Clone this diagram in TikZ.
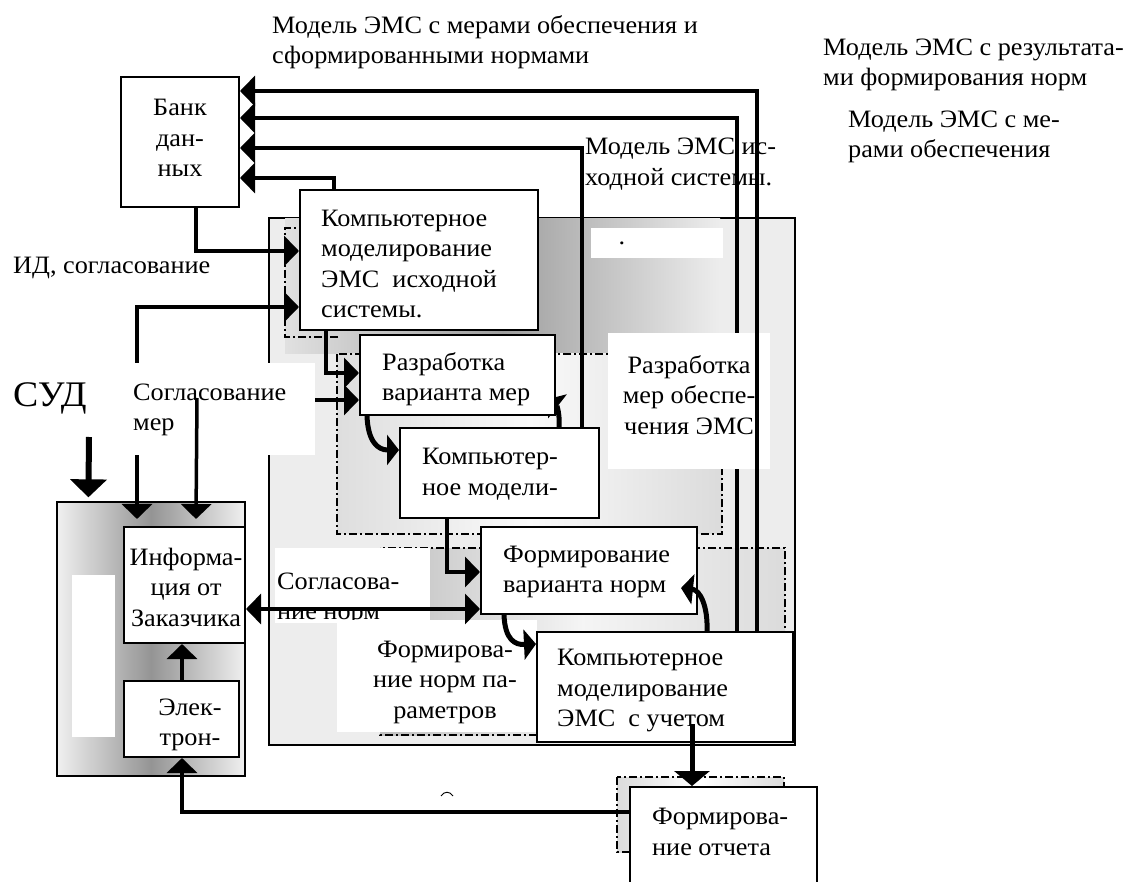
\documentclass[tikz,border=0pt]{standalone}
\usepackage{fontspec}
\setmainfont{Liberation Serif}[FakeStretch=1.05]
\usetikzlibrary{arrows.meta,calc}
\newcommand\fs{\fontsize{25}{30.5}\selectfont}
\pgfdeclarelayer{lzero}
\pgfdeclarelayer{lone}
\pgfdeclarelayer{ltwo}
\pgfsetlayers{lzero,lone,ltwo,main}
\begin{document}
\begin{tikzpicture}[x=1pt,y=-1pt,
  box/.style={draw, line width=2pt, fill=white, inner sep=0},
  txt/.style={inner sep=0, font=\fs, align=left},
  wbox/.style={fill=white, inner sep=0},
  dd/.style={line width=1.3pt, dash pattern=on 8pt off 3pt on 2pt off 3pt},
  arr/.style={line width=3.5pt, -{Triangle[length=15pt,width=30pt]}},
  darr/.style={line width=3.5pt, {Triangle[length=15pt,width=30pt]}-{Triangle[length=15pt,width=30pt]}},
  carr/.style={line width=5pt, -{Triangle[length=12pt,width=30pt]}},
  barr/.style={line width=6pt, -{Triangle[length=18pt,width=36pt]}},
]
\useasboundingbox (0,0) rectangle (1136,882);

% ---------- boxes (main layer) ----------
\node[box, minimum width=118pt, minimum height=130pt] (bank) at (180,142) {};
\node[box, minimum width=238pt, minimum height=140pt] (km1) at (419,260) {};
\node[box, minimum width=195pt, minimum height=80pt] (rv) at (457.5,375) {};
\node[box, minimum width=199pt, minimum height=90pt] (km2) at (499.5,473) {};
\node[box, minimum width=216pt, minimum height=87pt] (fv) at (589,570.5) {};
\node[box, minimum width=256pt, minimum height=110pt] (km3) at (665,687) {};
\node[box, minimum width=187pt, minimum height=99pt] (fo) at (723.5,836.5) {};
\node[box, minimum width=121pt, minimum height=116pt] (info) at (184.5,585) {};
\node[box, minimum width=115pt, minimum height=76pt] (el) at (181.5,719) {};

% ---------- background layer ----------
\begin{pgfonlayer}{lzero}
\node[draw, line width=1.3pt, fill=black!7, minimum width=526pt, minimum height=527pt, inner sep=0] (bb) at (532,481.5) {};
\path[left color=black!12, right color=black!7, middle color=black!38] (285,219) rectangle (720,354);
\draw[dd] (338,337) -- (285,337) -- (285,228) -- (300,228);
\path[left color=black!13, right color=black!14, middle color=black!2] (337,354) rectangle (722,534);
\draw[dd] (337,354) rectangle (722,534);
\path[left color=black!25, right color=black!14, middle color=black!4] (380,548) rectangle (785,735);
\draw[dd] (380,548) rectangle (785,735);
\path[left color=black!14, right color=black!14, middle color=white] (617,777) rectangle (784,852);
\draw[dd] (617,777) rectangle (784,852);
\node[draw, line width=1.3pt, left color=black!6, right color=black!6, middle color=black!42, minimum width=188pt, minimum height=274pt, inner sep=0] (lc) at (151,639) {};
\fill[white] (72,575) rectangle (115,737);
\node[txt, anchor=west] (midT) at (585,164) {Модель ЭМС ис-\\ходной системы.};
\end{pgfonlayer}

% ---------- lines hidden by white text boxes ----------
\begin{pgfonlayer}{lone}
\draw[arr] ([xshift=201pt]km3.north west) |- ([yshift=-42pt]bank.north east);
\draw[darr] ([xshift=14pt,yshift=7pt]info.north west) |- ([yshift=-118pt]km1.north west);
\draw[carr] ([xshift=160pt]km2.north west) .. controls (560,415) and (557,406) .. (548,399);
\end{pgfonlayer}

% ---------- white text boxes ----------
\begin{pgfonlayer}{ltwo}
\node[wbox, minimum width=132pt, minimum height=30pt] (t1) at (657,243) {};
\node[inner sep=0, font=\fs] (dot) at (622,243) {.};
\node[wbox, minimum width=162pt, minimum height=136pt] (t2) at (689,401) {};
\node[txt, align=center] (rmT) at (689,395) {Разработка\\мер обеспе-\\чения ЭМС};
\node[wbox, minimum width=187pt, minimum height=92pt] (t3) at (221.5,409) {};
\node[txt, anchor=west] (smT) at (133,410) {Согласование\\мер};
\node[wbox, minimum width=155pt, minimum height=75pt] (t4) at (352.5,585.5) {};
\node[txt, anchor=west] (snT) at (277,599) {Согласова-\\ние норм};
\node[wbox, minimum width=200pt, minimum height=112pt] (t5) at (437,676) {};
\node[txt, align=center] (fnT) at (445,682) {Формирова-\\ние норм па-\\раметров};
\end{pgfonlayer}

% ---------- texts ----------
\node[txt, anchor=west] (topT) at (272,42) {Модель ЭМС с мерами обеспечения и\\сформированными нормами};
\node[txt, anchor=west] (rt1) at (823,65) {Модель ЭМС с результата-\\ми формирования норм};
\node[txt, anchor=west] (rt2) at (848,137) {Модель ЭМС с ме-\\рами обеспечения};
\node[txt, align=center] (bankT) at (180,138) {Банк\\дан-\\ных};
\node[txt, anchor=west] (km1T) at (321,264) {Компьютерное\\моделирование\\ЭМС\ \ исходной\\системы.};
\node[txt, anchor=west] (idT) at (13,268) {ИД, согласование};
\node[txt, anchor=west] (rvT) at (382,379) {Разработка\\варианта мер};
\node[inner sep=0, font=\fontsize{36}{40}\selectfont, anchor=west] (sud) at (13,398) {СУД};
\node[txt, anchor=west] (km2T) at (422,474) {Компьютер-\\ное модели-};
\node[txt, align=center] (infoT) at (186,587) {Информа-\\ция от\\Заказчика};
\node[txt, align=center] (elT) at (190,725) {Элек-\\трон-};
\node[txt, anchor=west] (fvT) at (503,572) {Формирование\\варианта норм};
\node[txt, anchor=west] (km3T) at (557,691) {Компьютерное\\моделирование\\ЭМС\ \ с учетом};
\node[txt, anchor=west] (foT) at (652,832) {Формирова-\\ние отчета};

% ---------- connectors ----------
\draw[arr] ([xshift=221pt]km3.north west) |- ([yshift=-15pt]bank.north east);
\draw[arr] ([xshift=183pt]km2.north west) |- ([yshift=-72pt]bank.north east);
\draw[arr] ([xshift=35pt]km1.north west) |- ([yshift=-102pt]bank.north east);
\draw[arr] ([xshift=76pt]bank.south west) |- ([yshift=-62pt]km1.north west);
\coordinate (c7s) at (197,398);
\draw[arr] (c7s) -- ([xshift=73pt,yshift=7pt]info.north west);
\draw[arr] ([yshift=9pt]t3.east) -- ([yshift=-25pt]rv.west);
\draw[arr] ([xshift=27pt]km1.south west) |- ([yshift=2pt]rv.west);
\draw[carr] ([xshift=8pt]rv.south west) .. controls (368,442) and (378,450) .. ([yshift=23pt]km2.west);
\draw[arr] ([xshift=48pt]km2.south west) |- ([yshift=-1.5pt]fv.west);
\draw[darr] ([yshift=-24pt]info.east) -- ([yshift=-38.5pt]fv.west);
\draw[carr] ([xshift=24pt]fv.south west) .. controls (505,640) and (515,645) .. ([yshift=-13pt]km3.north west);
\coordinate (c15e) at (681,588);
\draw[carr] ([xshift=171pt]km3.north west) .. controls (708,606) and (700,590) .. (c15e);
\draw[line width=5pt, -{Triangle[length=15pt,width=35pt]}] ([xshift=156pt,yshift=19pt]km3.south west) -- ([xshift=63pt]fo.north west);
\draw[arr] ([yshift=24.5pt]fo.west) -| ([xshift=59pt]el.south west);
\draw[arr] ([xshift=59pt]el.north west) -- ([xshift=59pt]info.south west);
\coordinate (sudA) at (89,437);
\draw[barr, shorten >=4pt] (sudA) -- ([xshift=32pt]lc.north west);
% fragment of a clipped letter
\draw[line width=0.9pt] (441,796) .. controls (444,791) and (450,791) .. (453,796);
\end{tikzpicture}
\end{document}
